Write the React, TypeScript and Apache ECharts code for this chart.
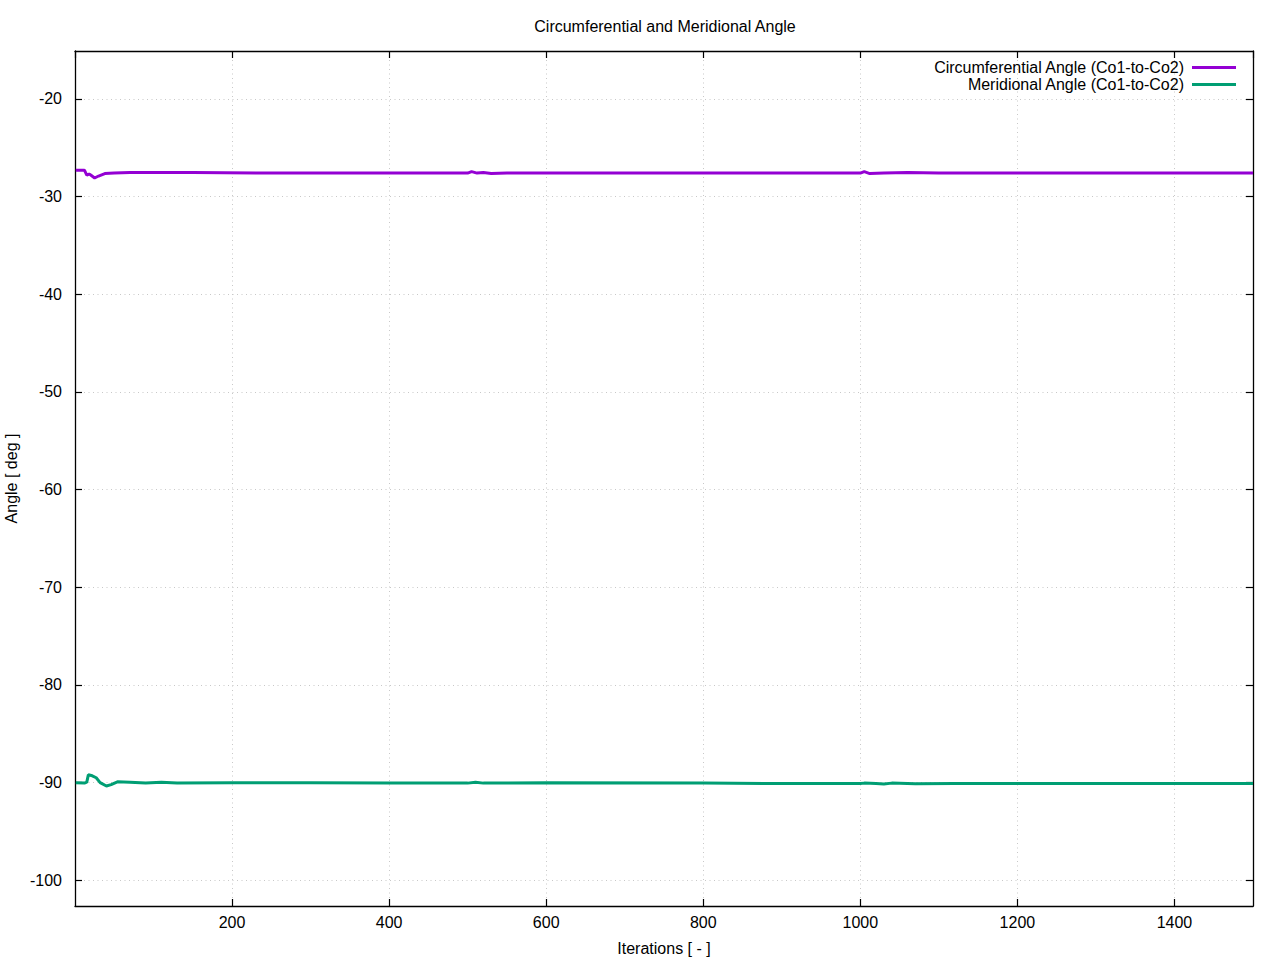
import React, { useEffect, useRef } from "react";
import * as echarts from "echarts";

const titleText = "Circumferential and Meridional Angle";
const xName = "Iterations [ - ]";
const yName = "Angle [ deg ]";
const yTicks = [-100, -90, -80, -70, -60, -50, -40, -30, -20];

const circName = "Circumferential Angle (Co1-to-Co2)";
const circIter = [1, 12, 15, 18, 20, 25, 30, 38, 50, 70, 150, 250, 400, 500, 505, 512, 520, 530, 550, 600, 1000, 1005, 1012, 1030, 1060, 1100, 1500];
const circVal = [-27.3, -27.3, -27.8, -27.7, -27.8, -28.1, -27.9, -27.65, -27.6, -27.55, -27.55, -27.6, -27.6, -27.6, -27.45, -27.6, -27.55, -27.65, -27.58, -27.6, -27.6, -27.45, -27.65, -27.6, -27.55, -27.6, -27.6];

const meriName = "Meridional Angle (Co1-to-Co2)";
const meriIter = [1, 12, 15, 17, 22, 27, 32, 40, 46, 54, 70, 90, 110, 130, 200, 300, 400, 500, 510, 520, 600, 800, 900, 1000, 1005, 1020, 1030, 1040, 1070, 1120, 1500];
const meriVal = [-90, -90.05, -89.95, -89.2, -89.3, -89.5, -90.0, -90.35, -90.2, -89.92, -89.95, -90.05, -89.95, -90.03, -90.0, -90.0, -90.05, -90.05, -89.95, -90.05, -90.02, -90.05, -90.1, -90.1, -90.05, -90.1, -90.15, -90.05, -90.12, -90.08, -90.1];

const X_MIN = 0;
const X_MAX = 1500;
const Y_MIN = -102.63;
const Y_MAX = -15.1;

const FONT = "'Liberation Sans', Arial, sans-serif";
const FS = 16;

export default function App() {
  const ref = useRef<HTMLDivElement>(null);
  useEffect(() => {
    if (!ref.current) return;
    const chart = echarts.init(ref.current, undefined, { renderer: "svg" });
    const gridLine = { show: true, lineStyle: { color: "#c8c8c8", type: [1, 3.5], width: 1 } };
    const axisLine = { show: true, onZero: false, lineStyle: { color: "#000", width: 1.3 } };
    const tick = { show: true, inside: true, length: 7, lineStyle: { color: "#000", width: 1.2 } };
    chart.setOption({
      animation: false,
      backgroundColor: "#fff",
      textStyle: { fontFamily: FONT },
      title: {
        text: titleText,
        left: 660,
        textAlign: "center",
        top: 13,
        textStyle: { fontSize: FS, fontWeight: "normal", color: "#000", fontFamily: FONT },
      },
      legend: {
        orient: "vertical",
        right: 39,
        top: 54,
        align: "right",
        icon: "rect",
        itemWidth: 44,
        itemHeight: 3,
        itemGap: 0,
        textStyle: { fontSize: FS, color: "#000", lineHeight: 17, fontFamily: FONT, padding: [0, 3, 0, 0] },
        data: [circName, meriName],
      },
      grid: { left: 75, right: 27, top: 51, bottom: 54, containLabel: false, outerBoundsMode: "none" },
      xAxis: [
        {
          type: "value",
          min: X_MIN,
          max: X_MAX,
          interval: 200,
          name: xName,
          nameLocation: "middle",
          nameGap: 34,
          nameTextStyle: { fontSize: FS, color: "#000", fontFamily: FONT },
          axisLine,
          axisTick: tick,
          axisLabel: {
            showMinLabel: false,
            showMaxLabel: false,
            fontSize: FS,
            color: "#000",
            margin: 8,
            fontFamily: FONT,
            formatter: (v: number) => String(v),
          },
          splitLine: gridLine,
        },
        {
          type: "value",
          position: "top",
          min: X_MIN,
          max: X_MAX,
          interval: 200,
          axisLine,
          axisTick: tick,
          axisLabel: { show: false },
          splitLine: { show: false },
        },
      ],
      yAxis: [
        {
          type: "value",
          min: Y_MIN,
          max: Y_MAX,
          name: yName,
          nameLocation: "middle",
          nameGap: 49,
          nameTextStyle: { fontSize: FS, color: "#000", fontFamily: FONT },
          axisLine,
          axisTick: { ...tick, customValues: yTicks },
          axisLabel: {
            customValues: yTicks,
            fontSize: FS,
            color: "#000",
            margin: 13,
            fontFamily: FONT,
            formatter: (v: number) => String(v),
          },
          splitLine: gridLine,
        },
        {
          type: "value",
          position: "right",
          min: Y_MIN,
          max: Y_MAX,
          axisLine,
          axisTick: { ...tick, customValues: yTicks },
          axisLabel: { show: false },
          splitLine: { show: false },
        },
      ],
      series: [
        {
          name: circName,
          type: "line",
          xAxisIndex: 0,
          yAxisIndex: 0,
          showSymbol: false,
          symbol: "none",
          smooth: false,
          lineStyle: { color: "#9400d3", width: 3 },
          itemStyle: { color: "#9400d3" },
          data: circIter.map((x, i) => [x, circVal[i]]),
        },
        {
          name: meriName,
          type: "line",
          xAxisIndex: 0,
          yAxisIndex: 0,
          showSymbol: false,
          symbol: "none",
          smooth: false,
          lineStyle: { color: "#009e73", width: 3 },
          itemStyle: { color: "#009e73" },
          data: meriIter.map((x, i) => [x, meriVal[i]]),
        },
      ],
    });
    return () => chart.dispose();
  }, []);
  return (
    <div
      ref={ref}
      style={{ position: "absolute", left: 0, top: 0, width: 1280, height: 960 }}
    />
  );
}
